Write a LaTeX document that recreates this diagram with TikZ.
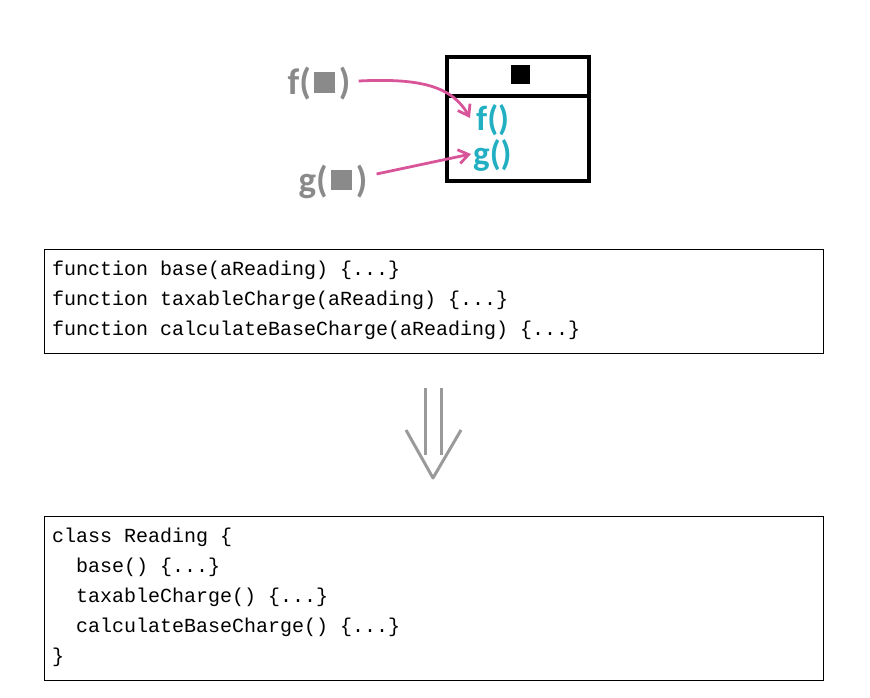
\documentclass[tikz,border=0pt]{standalone}
\usepackage{fontspec}
\setmainfont{Carlito}
\setmonofont{Liberation Mono}
\usetikzlibrary{arrows.meta}
\definecolor{argGray}{HTML}{8A8A8A}
\definecolor{methCyan}{HTML}{22AFC2}
\definecolor{linkPink}{HTML}{D9559A}
\definecolor{arrGray}{HTML}{9A9A9A}
\tikzset{
  codebox/.style={draw=black, line width=1pt},
  codeline/.style={anchor=west, inner sep=0pt, font=\ttfamily\fontsize{20}{24}\selectfont},
  argtext/.style={inner sep=0pt, text=argGray, font=\bfseries\fontsize{37}{40}\selectfont},
  methtext/.style={inner sep=0pt, anchor=west, text=methCyan, font=\bfseries\fontsize{35}{38}\selectfont},
  link/.style={draw=linkPink, line width=2.8pt, -{Straight Barb[length=10pt,width=14pt,line width=2.8pt]}},
  bigarrow/.style={draw=arrGray, line width=3pt}
}
\newcommand{\argsq}{\hspace{0.1em}\rule[0.06em]{0.56em}{0.56em}\hspace{0.1em}}
\begin{document}
\begin{tikzpicture}[x=1pt,y=-1pt]
\useasboundingbox (0,0) rectangle (870,698);

% class box
\draw[line width=3.2pt] (447,57) rectangle (589,181);
\draw[line width=3.2pt] (447,96) -- (589,96);
\node[fill=black, minimum size=19pt, inner sep=0pt] (hdr) at (520,75) {};
\node[methtext] (fm) at (476,120) {f()};
\node[methtext] (gm) at (473,155) {g()};

% free functions
\node[argtext] (fa) at (319,84) {f(\argsq)};
\node[argtext] (ga) at (333,182) {g(\argsq)};

\draw[link] (fa.east) ++(8,-3) .. controls (420,78) and (452,86) .. ([xshift=-6pt,yshift=2pt]fm.west);
\draw[link] (ga.east) ++(9,-8) -- ([xshift=-2pt,yshift=1pt]gm.west);

% functions listing
\draw[codebox] (44,249) rectangle (823,353);
\node[codeline] (c1) at (52,270) {function base(aReading) \{...\}};
\node[codeline] (c2) at (52,300) {function taxableCharge(aReading) \{...\}};
\node[codeline] (c3) at (52,330) {function calculateBaseCharge(aReading) \{...\}};

% transformation arrow
\coordinate (tip) at (433,478);
\draw[bigarrow] (425,388) -- (425,455);
\draw[bigarrow] (441,388) -- (441,455);
\draw[bigarrow, line join=round] (406,430) -- (tip) -- (461,430);

% class listing
\draw[codebox] (44,516) rectangle (823,680);
\node[codeline] (d1) at (52,537) {class Reading \{};
\node[codeline] (d2) at (52,567) {\ \ base() \{...\}};
\node[codeline] (d3) at (52,597) {\ \ taxableCharge() \{...\}};
\node[codeline] (d4) at (52,627) {\ \ calculateBaseCharge() \{...\}};
\node[codeline] (d5) at (52,657) {\}};
\end{tikzpicture}
\end{document}
